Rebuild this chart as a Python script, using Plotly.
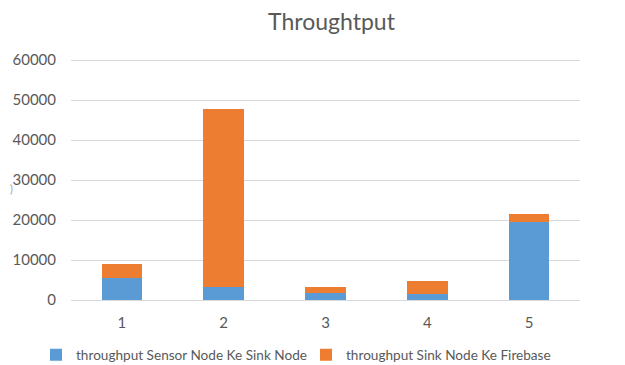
import plotly.graph_objects as go

categories = ["1", "2", "3", "4", "5"]
sensor_to_sink = [5500, 3150, 1800, 1500, 19400]
sink_to_firebase = [3400, 44650, 1350, 3300, 2100]
y_ticks = [0, 10000, 20000, 30000, 40000, 50000, 60000]
y_tick_labels = ["0", "10000", "20000", "30000", "40000", "50000", "60000"]

FONT = "Lato"
GREY = "#595959"
OFF = 8  # page body margin

L, R, T, B = 71 - OFF, 625 - 580 + OFF, 58 - OFF, 365 - 300 + OFF
PW, PH = 625 - L - R, 365 - T - B

fig = go.Figure()
fig.add_trace(go.Bar(x=categories, y=sensor_to_sink, name="throughput Sensor Node Ke Sink Node",
                     marker=dict(color="#5B9BD5", line=dict(width=0)), legend="legend"))
fig.add_trace(go.Bar(x=categories, y=sink_to_firebase, name="throughput Sink Node Ke Firebase",
                     marker=dict(color="#ED7D31", line=dict(width=0)), legend="legend2"))

legend_common = dict(orientation="h", xref="container", yref="container", xanchor="left",
                     yanchor="middle", y=1 - (355 - OFF) / 365, itemwidth=30,
                     font=dict(family=FONT, size=13.6, color=GREY), bgcolor="rgba(0,0,0,0)")

fig.update_layout(
    width=625, height=365,
    barmode="stack", bargap=0.6,
    paper_bgcolor="white", plot_bgcolor="white",
    margin=dict(l=L, r=R, t=T, b=B, autoexpand=False),
    font=dict(family=FONT, color=GREY, size=12),
    title=dict(text="Throughtput", x=(331.5 - OFF) / 625, xref="container", xanchor="center",
               y=1 - (22 - OFF) / 365, yref="container", yanchor="middle",
               font=dict(family=FONT, size=23, color=GREY)),
    legend=dict(x=(76 - OFF - 40) / 625, **legend_common),
    legend2=dict(x=(346 - OFF - 40) / 625, **legend_common),
    showlegend=True,
    annotations=[dict(text=")", xref="paper", yref="paper", x=(11 - OFF - L) / PW,
                      y=(365 - B - (188 - OFF)) / PH, xanchor="center", yanchor="middle",
                      showarrow=False, font=dict(family=FONT, size=11, color="#A6A6A6"))],
)
fig.update_yaxes(range=[0, 60500], tickvals=y_ticks, ticktext=y_tick_labels, showgrid=True,
                 gridcolor="#D9D9D9", gridwidth=1, zeroline=False, showline=False, ticks="",
                 ticklabelstandoff=14, automargin=False, tickfont=dict(size=15, color=GREY))
fig.update_xaxes(showline=True, linecolor="#D9D9D9", linewidth=1, ticks="", showgrid=False,
                 ticklabelstandoff=9, automargin=False, tickfont=dict(size=15, color=GREY))

fig.write_html("out.html")
